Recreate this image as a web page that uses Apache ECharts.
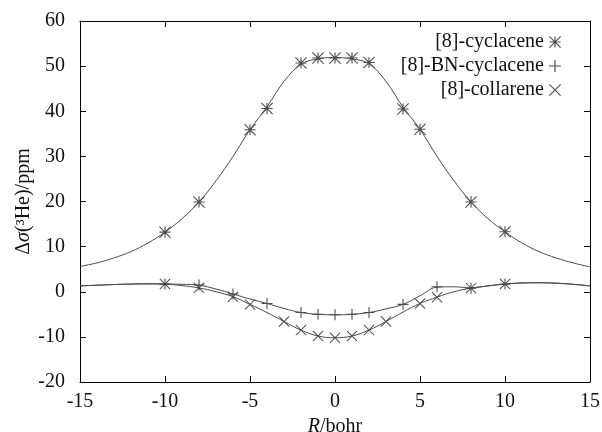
<!DOCTYPE html>
<html><head><meta charset="utf-8">
<script src="https://cdn.jsdelivr.net/npm/echarts@6/dist/echarts.min.js"></script>
<style>html,body{margin:0;padding:0;background:#fff}#c{width:602px;height:432px}</style>
</head><body><div id="c"></div>
<script>
// ---- data ----
const xTicks = [-15, -10, -5, 0, 5, 10, 15];
const yTicks = [-20, -10, 0, 10, 20, 30, 40, 50, 60];
const seriesNames = ['[8]-cyclacene', '[8]-BN-cyclacene', '[8]-collarene'];

const cycX = [-10, -8, -5, -4, -2, -1, 0, 1, 2, 4, 5, 8, 10];
const cycY = [13.2, 19.9, 35.9, 40.6, 50.7, 51.8, 51.8, 51.8, 50.8, 40.5, 36.0, 19.9, 13.3];

const bnX = [-10, -8, -6, -4, -2, -1, 0, 1, 2, 4, 6, 8, 10];
const bnY = [1.7, 1.5, -0.5, -2.6, -4.6, -5.0, -5.1, -5.0, -4.6, -2.8, 1.1, 0.8, 1.7];

const colX = [-10, -8, -6, -5, -3, -2, -1, 0, 1, 2, 3, 5, 6, 8, 10];
const colY = [1.7, 0.9, -1.1, -2.8, -6.6, -8.5, -9.8, -10.2, -9.8, -8.5, -6.6, -2.6, -1.2, 0.8, 1.7];

// fitted curves sampled at integer R
const fitX = [-15,-14,-13,-12,-11,-10,-9,-8,-7,-6,-5,-4,-3,-2,-1,0,1,2,3,4,5,6,7,8,9,10,11,12,13,14,15];
const cycFit = [5.6,6.4,7.5,8.9,10.8,13.2,16.2,19.9,24.6,30.0,35.9,41.0,46.6,50.4,51.6,51.9,51.6,50.5,46.6,40.9,36.0,30.0,24.6,19.9,16.2,13.3,10.8,8.9,7.5,6.4,5.5];
const bnFit = [1.3,1.45,1.6,1.7,1.75,1.7,1.65,1.45,0.6,-0.5,-1.6,-2.6,-3.7,-4.6,-5.0,-5.1,-5.0,-4.6,-3.8,-2.8,-0.9,1.0,1.1,0.85,1.3,1.7,1.95,2.0,1.9,1.65,1.3];
const colFit = [1.3,1.45,1.6,1.7,1.75,1.7,1.35,0.85,0.0,-1.1,-2.8,-4.6,-6.6,-8.5,-9.8,-10.2,-9.8,-8.5,-6.6,-4.5,-2.6,-1.2,0.0,0.8,1.3,1.7,1.95,2.0,1.9,1.65,1.3];

// ---- styling ----
const FONT = 'Liberation Serif';
const plusPath = 'M-0.6,-6L0.6,-6L0.6,6L-0.6,6ZM-6,-0.6L6,-0.6L6,0.6L-6,0.6Z';
const crossPath = 'M-5.58,-6.42L6.42,5.58L5.58,6.42L-6.42,-5.58ZM-6.42,5.58L5.58,-6.42L6.42,-5.58L-5.58,6.42Z';
const starSym = 'path://' + plusPath + crossPath;
const plusSym = 'path://' + plusPath;
const crossSym = 'path://' + crossPath;
const symbols = [starSym, plusSym, crossSym];
const markColor = '#222';
const lineColor = '#4a4a4a';

const zip = (xs, ys) => xs.map((x, i) => [x, ys[i]]);

const xStep = xTicks[1] - xTicks[0];
const yStep = yTicks[1] - yTicks[0];
const axisCommon = {
  axisLine: { show: true, onZero: false, lineStyle: { color: '#000', width: 1 } },
  axisTick: { show: true, inside: true, length: 6, lineStyle: { color: '#000' } },
  splitLine: { show: false }
};
const xBase = Object.assign({ type: 'value', min: xTicks[0], max: xTicks[xTicks.length - 1], interval: xStep }, axisCommon);
const yBase = Object.assign({ type: 'value', min: yTicks[0], max: yTicks[yTicks.length - 1], interval: yStep }, axisCommon);

const chart = echarts.init(document.getElementById('c'), null, { renderer: 'canvas' });
chart.setOption({
  animation: false,
  backgroundColor: '#fff',
  grid: { left: 80, right: 12, top: 21, bottom: 50, containLabel: false, outerBoundsMode: 'none' },
  xAxis: [
    Object.assign({}, xBase, {
      position: 'bottom',
      axisLabel: { color: '#111', fontFamily: FONT, fontSize: 20, margin: 10 },
      name: '{i|R}{n|/bohr}', nameLocation: 'middle', nameGap: 26,
      nameTextStyle: { rich: {
        i: { fontFamily: FONT, fontSize: 20, fontStyle: 'italic', color: '#111' },
        n: { fontFamily: FONT, fontSize: 20, fontStyle: 'normal', color: '#111' } } }
    }),
    Object.assign({}, xBase, { position: 'top', axisLabel: { show: false } })
  ],
  yAxis: [
    Object.assign({}, yBase, {
      position: 'left',
      axisLabel: { color: '#111', fontFamily: FONT, fontSize: 20, margin: 15 },
      name: '{n|Δ}{i|σ}{n|(³He)/ppm}', nameLocation: 'middle', nameGap: 46, nameMoveOverlap: false,
      nameTextStyle: { rich: {
        i: { fontFamily: FONT, fontSize: 20, fontStyle: 'italic', color: '#111' },
        n: { fontFamily: FONT, fontSize: 20, fontStyle: 'normal', color: '#111' } } }
    }),
    Object.assign({}, yBase, { position: 'right', axisLabel: { show: false } })
  ],
  legend: {
    orient: 'vertical', right: 41, top: 32, align: 'right', padding: 0,
    itemWidth: 12, itemHeight: 12, itemGap: 4,
    textStyle: { fontFamily: FONT, fontSize: 20, color: '#111' },
    data: seriesNames.map((n, i) => ({ name: n, icon: symbols[i] }))
  },
  series: [
    { type: 'line', name: 'fit-cyc', data: zip(fitX, cycFit), smooth: 0.4, showSymbol: false,
      lineStyle: { color: lineColor, width: 1 }, silent: true },
    { type: 'line', name: 'fit-bn', data: zip(fitX, bnFit), smooth: 0.4, showSymbol: false,
      lineStyle: { color: lineColor, width: 1 }, silent: true },
    { type: 'line', name: 'fit-col', data: zip(fitX, colFit), smooth: 0.4, showSymbol: false,
      lineStyle: { color: lineColor, width: 1 }, silent: true },
    { type: 'scatter', name: seriesNames[0], data: zip(cycX, cycY), symbol: starSym, symbolSize: 12,
      itemStyle: { color: markColor } },
    { type: 'scatter', name: seriesNames[1], data: zip(bnX, bnY), symbol: plusSym, symbolSize: 11,
      itemStyle: { color: markColor } },
    { type: 'scatter', name: seriesNames[2], data: zip(colX, colY), symbol: crossSym, symbolSize: 11,
      itemStyle: { color: markColor } }
  ]
});
</script>
</body></html>
